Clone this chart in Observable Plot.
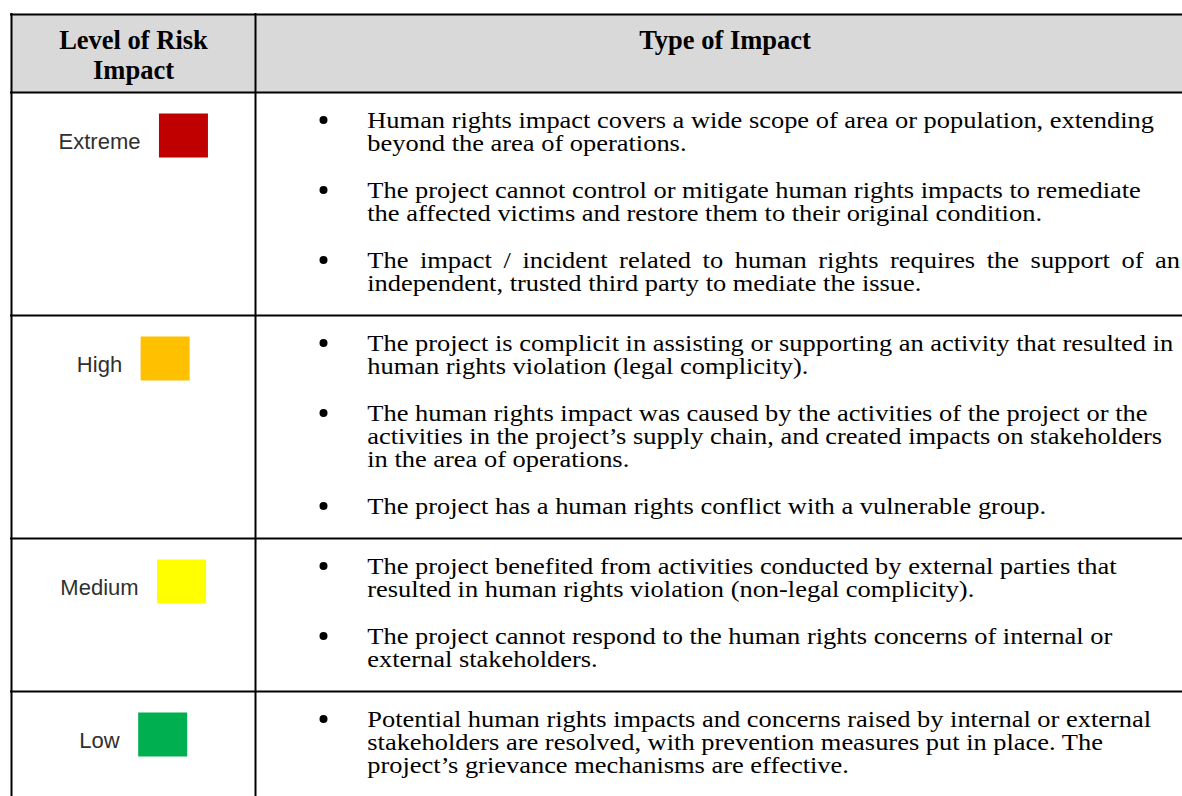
<!DOCTYPE html>
<html>
<head>
<meta charset="utf-8">
<style>
html, body { margin: 0; padding: 0; background: #fff; overflow: hidden; }
svg { display: block; }
</style>
<script src="https://cdn.jsdelivr.net/npm/d3@7"></script>
<script src="https://cdn.jsdelivr.net/npm/@observablehq/plot@0.6"></script>
</head>
<body>
<div id="chart"></div>
<script>
// ---------- data ----------
const levels = ["Extreme", "High", "Medium", "Low"];
const levelColors = ["#c00000", "#ffc000", "#ffff00", "#00b050"];
const headerLeft = ["Level of Risk", "Impact"];
const headerRight = ["Type of Impact"];

const impactsExtreme = [
  ["Human rights impact covers a wide scope of area or population, extending",
   "beyond the area of operations."],
  ["The project cannot control or mitigate human rights impacts to remediate",
   "the affected victims and restore them to their original condition."],
  ["The impact / incident related to human rights requires the support of an",
   "independent, trusted third party to mediate the issue."]
];
const impactsHigh = [
  ["The project is complicit in assisting or supporting an activity that resulted in",
   "human rights violation (legal complicity)."],
  ["The human rights impact was caused by the activities of the project or the",
   "activities in the project\u2019s supply chain, and created impacts on stakeholders",
   "in the area of operations."],
  ["The project has a human rights conflict with a vulnerable group."]
];
const impactsMedium = [
  ["The project benefited from activities conducted by external parties that",
   "resulted in human rights violation (non-legal complicity)."],
  ["The project cannot respond to the human rights concerns of internal or",
   "external stakeholders."]
];
const impactsLow = [
  ["Potential human rights impacts and concerns raised by internal or external",
   "stakeholders are resolved, with prevention measures put in place. The",
   "project\u2019s grievance mechanisms are effective."]
];
const justifiedParagraphs = ["Extreme-2"];

// ---------- layout ----------
const W = 1182, H = 796;
const tableLeft = 11, colDiv = 255, tableRight = 1194, tableTop = 14, headerBottom = 92;
const padTop = 35, lineStep = 23, paraGap = 24, padBottom = 25;
const bodyX = 366.7, bulletX = 323, rightMargin = 1180;
const bodyFont = 23, bodyStretch = 1.15;
const labelFont = 22, headerFont = 26.5;
const swatchW = 49, swatchH = 44, swatchGap = 19;

const canvas = document.createElement("canvas");
const ctx = canvas.getContext("2d");
function measure(text, font) { ctx.font = font; return ctx.measureText(text).width; }

const impacts = [impactsExtreme, impactsHigh, impactsMedium, impactsLow];
const justified = new Set(justifiedParagraphs);
const rows = [], lines = [], bullets = [], swatches = [], labels = [];
let cursor = headerBottom;
levels.forEach((level, i) => {
  const top = cursor;
  let b = top + padTop;
  impacts[i].forEach((para, p) => {
    if (p > 0) b += paraGap;
    bullets.push({level, y: b - 7.5});
    para.forEach((t, k) => {
      lines.push({level, text: t, y: b, justify: justified.has(`${level}-${p}`) && k < para.length - 1});
      b += lineStep;
    });
  });
  const bottom = b - lineStep + padBottom;
  rows.push({level, top, bottom});
  cursor = bottom;
  // swatch + label, centred as a group in the first column
  const w = measure(level, `${labelFont}px "Liberation Sans"`);
  const cx = (tableLeft + colDiv) / 2;
  const start = cx - (w + swatchGap + swatchW) / 2;
  const sqLeft = start + w + swatchGap;
  const sqTop = top + 21.5;
  swatches.push({level, x1: sqLeft, x2: sqLeft + swatchW, y1: sqTop, y2: sqTop + swatchH});
  labels.push({level, x: start + w, y: sqTop + 34.5});
});

const hRules = [{y: tableTop}, {y: headerBottom}].concat(rows.slice(0, -1).map(r => ({y: r.bottom})));
const vRules = [{x: tableLeft}, {x: colDiv}];
const headerTexts = headerLeft.map((t, k) => ({text: t, x: (tableLeft + colDiv) / 2, y: 48 + 30 * k}))
  .concat(headerRight.map((t, k) => ({text: t, x: (colDiv + tableRight) / 2, y: 48 + 30 * k})));

const svg = Plot.plot({
  width: W, height: H,
  margin: 0,
  x: {type: "linear", domain: [0, W], range: [0, W], axis: null},
  y: {type: "linear", domain: [0, H], range: [0, H], axis: null},
  color: {type: "ordinal", domain: levels, range: levelColors},
  marks: [
    Plot.rect([{}], {x1: () => tableLeft, x2: () => tableRight, y1: () => tableTop, y2: () => headerBottom, fill: "#d9d9d9"}),
    Plot.rect(swatches, {x1: "x1", x2: "x2", y1: "y1", y2: "y2", fill: "level"}),
    Plot.ruleY(hRules, {y: "y", x1: () => tableLeft - 1, x2: () => tableRight, stroke: "black", strokeWidth: 2}),
    Plot.ruleX(vRules, {x: "x", y1: () => tableTop - 1, y2: () => H, stroke: "black", strokeWidth: 2}),
    Plot.text(headerTexts, {x: "x", y: "y", text: "text", textAnchor: "middle", lineAnchor: "bottom",
      fontFamily: "Liberation Serif", fontWeight: "bold", fontSize: headerFont, fill: "black"}),
    Plot.text(labels, {x: "x", y: "y", text: "level", textAnchor: "end", lineAnchor: "bottom",
      fontFamily: "Liberation Sans", fontSize: labelFont, fill: "#303030"}),
    Plot.dot(bullets, {x: () => bulletX, y: "y", r: 4, fill: "black"}),
    Plot.text(lines, {x: () => bodyX, y: "y", text: "text", textAnchor: "start", lineAnchor: "bottom",
      fontFamily: "Liberation Serif", fontSize: bodyFont, fill: "black"})
  ]
});

// horizontal stretch of body text (reference glyphs are wider than tall), anchored at text start
svg.querySelectorAll("g").forEach(g => {
  if (g.getAttribute("font-size") == String(bodyFont) && g.getAttribute("font-weight") !== "bold") {
    const t = g.getAttribute("transform") || "";
    g.setAttribute("transform", `translate(${bodyX},0) scale(${bodyStretch},1) translate(${-bodyX},0) ${t}`);
  }
});
// justify flagged lines to the right margin
const justTexts = new Set(lines.filter(d => d.justify).map(d => d.text));
svg.querySelectorAll("text").forEach(el => {
  if (justTexts.has(el.textContent)) {
    const natural = measure(el.textContent, `${bodyFont}px "Liberation Serif"`) * bodyStretch;
    const spaces = (el.textContent.match(/ /g) || []).length;
    const ws = (rightMargin - bodyX - natural) / spaces / bodyStretch;
    el.setAttribute("word-spacing", ws.toFixed(2));
    el.style.wordSpacing = ws.toFixed(2) + "px";
  }
});

document.getElementById("chart").appendChild(svg);
</script>
</body>
</html>
